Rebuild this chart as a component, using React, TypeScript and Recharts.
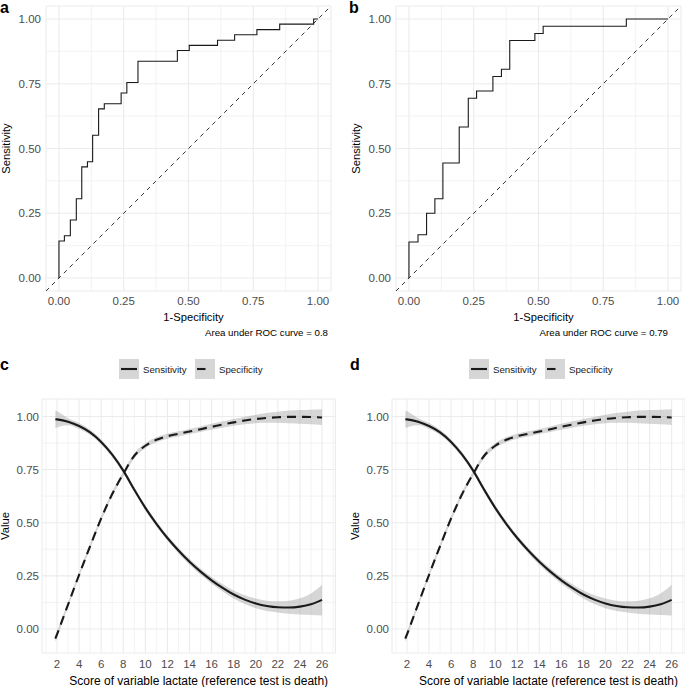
import React from 'react';
import { ComposedChart, Line, Area, XAxis, YAxis, CartesianGrid } from 'recharts';

// ---------- Panel a / b : ROC curves (step vertices: 1-specificity, sensitivity) ----------
const rocAFpr = [0, 0, 0.021, 0.044, 0.067, 0.088, 0.110, 0.130, 0.153, 0.175, 0.240, 0.262, 0.305, 0.457, 0.503, 0.612, 0.678, 0.764, 0.852, 0.983, 1.0];
const rocATpr = [0, 0.143, 0.163, 0.224, 0.306, 0.429, 0.449, 0.551, 0.653, 0.673, 0.714, 0.755, 0.837, 0.878, 0.898, 0.918, 0.939, 0.959, 0.980, 1.0, 1.0];
const rocBFpr = [0, 0, 0.035, 0.068, 0.100, 0.131, 0.194, 0.229, 0.261, 0.324, 0.357, 0.389, 0.486, 0.518, 0.839, 1.0];
const rocBTpr = [0, 0.139, 0.167, 0.250, 0.306, 0.444, 0.583, 0.694, 0.722, 0.778, 0.806, 0.917, 0.944, 0.972, 1.0, 1.0];
const aucA = '0.8';
const aucB = '0.79';
const diagonalX = [-0.05, 1.05];
const rocTicks = [0, 0.25, 0.5, 0.75, 1];
const rocMinor = [0.125, 0.375, 0.625, 0.875];

// ---------- Panel c / d : smoothed sensitivity & specificity by score ----------
const scoreX = [1.85, 2, 3, 4, 5, 6, 7, 8, 9, 10, 11, 12, 13, 14, 15, 16, 17, 18, 19, 20, 21, 22, 23, 24, 25, 26];
const sensitivity = [0.987, 0.986, 0.975, 0.955, 0.925, 0.880, 0.820, 0.745, 0.655, 0.570, 0.495, 0.428, 0.369, 0.316, 0.270, 0.229, 0.193, 0.162, 0.138, 0.120, 0.108, 0.102, 0.101, 0.105, 0.116, 0.137];
const sensLow = [0.945, 0.948, 0.958, 0.941, 0.913, 0.868, 0.808, 0.733, 0.643, 0.558, 0.483, 0.416, 0.356, 0.302, 0.255, 0.213, 0.176, 0.143, 0.117, 0.097, 0.085, 0.078, 0.072, 0.068, 0.066, 0.064];
const sensHigh = [1.027, 1.024, 0.992, 0.969, 0.937, 0.892, 0.832, 0.757, 0.667, 0.582, 0.507, 0.440, 0.382, 0.330, 0.285, 0.245, 0.210, 0.181, 0.159, 0.143, 0.133, 0.130, 0.133, 0.144, 0.167, 0.208];
const specificity = [-0.045, -0.025, 0.115, 0.255, 0.390, 0.520, 0.635, 0.730, 0.815, 0.862, 0.890, 0.907, 0.918, 0.929, 0.940, 0.951, 0.962, 0.972, 0.981, 0.988, 0.993, 0.996, 0.998, 0.998, 0.997, 0.995];
const specLow = [-0.060, -0.040, 0.103, 0.244, 0.378, 0.508, 0.623, 0.718, 0.803, 0.850, 0.878, 0.895, 0.906, 0.917, 0.927, 0.937, 0.947, 0.956, 0.963, 0.968, 0.970, 0.970, 0.968, 0.966, 0.963, 0.960];
const specHigh = [-0.030, -0.010, 0.127, 0.266, 0.402, 0.532, 0.647, 0.742, 0.827, 0.874, 0.902, 0.919, 0.930, 0.941, 0.953, 0.965, 0.977, 0.988, 0.999, 1.008, 1.016, 1.022, 1.028, 1.030, 1.032, 1.034];
const scoreTicks = [2, 4, 6, 8, 10, 12, 14, 16, 18, 20, 22, 24, 26];
const scoreMinor = [1, 3, 5, 7, 9, 11, 13, 15, 17, 19, 21, 23, 25, 27];
const valueTicks = [0, 0.25, 0.5, 0.75, 1];
const valueMinor = [0.125, 0.375, 0.625, 0.875];

const rocA = rocAFpr.map((x, i) => ({ x, y: rocATpr[i] }));
const rocB = rocBFpr.map((x, i) => ({ x, y: rocBTpr[i] }));
const diagonal = diagonalX.map((v) => ({ x: v, y: v }));
const scoreRows = scoreX.map((x, i) => ({
  x,
  sens: sensitivity[i],
  spec: specificity[i],
  sensBand: [sensLow[i], sensHigh[i]],
  specBand: [specLow[i], specHigh[i]],
}));

const FONT = '"Liberation Sans", Arial, Helvetica, sans-serif';
const TICK = { fontSize: 11.5, fill: '#4d4d4d' };
const GRID = '#ebebeb';
const BAND = '#999999';
const INK = '#1a1a1a';

function scaleOf(ax: any, v: number, lo: number, len: number, dom: number[]) {
  const s = ax && ax.scale;
  if (typeof s === 'function') return s(v);
  if (s && typeof s.map === 'function') return s.map(v);
  return lo + ((v - dom[0]) / (dom[1] - dom[0])) * len;
}

const minorX = (vals: number[], dom: number[]) => (p: any) =>
  vals.map((v) => scaleOf(p.xAxis, v, p.offset.left, p.offset.width, dom));
const minorY = (vals: number[], dom: number[]) => (p: any) =>
  vals.map((v) => scaleOf(p.yAxis, v, p.offset.top + p.offset.height, -p.offset.height, dom));

const yTitle = (text: string, shift: number, size: number) => (props: any) => {
  const vb = props.viewBox;
  if (!vb) return null;
  const x = vb.x + shift;
  const y = vb.y + vb.height / 2;
  return (
    <text x={x} y={y} transform={`rotate(-90 ${x} ${y})`} textAnchor="middle" dominantBaseline="central" fontSize={size} fill="#000">
      {text}
    </text>
  );
};

const xTitle = (text: string, down: number, shift: number, size: number) => (props: any) => {
  const vb = props.viewBox;
  if (!vb) return null;
  const x = vb.x + vb.width / 2 + shift;
  const y = vb.y + down;
  return (
    <text x={x} y={y} textAnchor="middle" dominantBaseline="central" fontSize={size} fill="#000">
      {text}
    </text>
  );
};

const fmt2 = (v: number) => v.toFixed(2);

function RocPanel({ data, width, yWidth, right, titleShift }: { data: { x: number; y: number }[]; width: number; yWidth: number; right: number; titleShift: number }) {
  const dom = [-0.05, 1.05];
  return (
    <ComposedChart width={width} height={340} margin={{ top: 6, right, bottom: 0, left: 0 }}>
      <CartesianGrid stroke={GRID} strokeWidth={0.6} verticalCoordinatesGenerator={minorX(rocMinor, dom)} horizontalCoordinatesGenerator={minorY(rocMinor, dom)} />
      <CartesianGrid stroke={GRID} strokeWidth={1.1} />
      <XAxis
        type="number"
        dataKey="x"
        domain={dom}
        allowDataOverflow
        ticks={rocTicks}
        interval={0}
        tickFormatter={fmt2}
        height={49}
        tickLine={false}
        axisLine={false}
        tickSize={0}
        tickMargin={6}
        tick={TICK}
        label={{ content: xTitle('1-Specificity', 26, titleShift, 11.2) }}
      />
      <YAxis
        type="number"
        dataKey="y"
        domain={dom}
        allowDataOverflow
        ticks={rocTicks}
        interval={0}
        tickFormatter={fmt2}
        width={yWidth}
        tickLine={false}
        axisLine={false}
        tickSize={0}
        tickMargin={5}
        tick={TICK}
        label={{ content: yTitle('Sensitivity', yWidth - 40, 11.2) }}
      />
      <Line data={diagonal} dataKey="y" type="linear" stroke="#333333" strokeWidth={1} strokeDasharray="4.2 4.2" dot={false} activeDot={false} isAnimationActive={false} />
      <Line data={data} dataKey="y" type="stepAfter" stroke={INK} strokeWidth={1.1} dot={false} activeDot={false} isAnimationActive={false} />
    </ComposedChart>
  );
}

function ScorePanel({ width, yWidth, right, titleX }: { width: number; yWidth: number; right: number; titleX: number }) {
  const xDom = [0.64, 27.21];
  const yDom = [-0.113, 1.082];
  return (
    <ComposedChart width={width} height={347} data={scoreRows} margin={{ top: 59, right, bottom: 0, left: 0 }}>
      <CartesianGrid stroke={GRID} strokeWidth={0.6} verticalCoordinatesGenerator={minorX(scoreMinor, xDom)} horizontalCoordinatesGenerator={minorY(valueMinor, yDom)} />
      <CartesianGrid stroke={GRID} strokeWidth={1.1} />
      <XAxis
        type="number"
        dataKey="x"
        domain={xDom}
        allowDataOverflow
        ticks={scoreTicks}
        interval={0}
        height={34}
        tickLine={false}
        axisLine={false}
        tickSize={0}
        tickMargin={7}
        tick={TICK}
        label={{ content: xTitle('Score of variable lactate (reference test is death)', 27.5, 10, 12) }}
      />
      <YAxis
        type="number"
        domain={yDom}
        allowDataOverflow
        ticks={valueTicks}
        interval={0}
        tickFormatter={fmt2}
        width={yWidth}
        tickLine={false}
        axisLine={false}
        tickSize={0}
        tickMargin={3}
        tick={TICK}
        label={{ content: yTitle('Value', titleX, 11.2) }}
      />
      <Area dataKey="sensBand" type="monotone" stroke="none" fill={BAND} fillOpacity={0.4} dot={false} activeDot={false} isAnimationActive={false} />
      <Area dataKey="specBand" type="monotone" stroke="none" fill={BAND} fillOpacity={0.4} dot={false} activeDot={false} isAnimationActive={false} />
      <Line dataKey="sens" type="monotone" stroke={INK} strokeWidth={2.1} dot={false} activeDot={false} isAnimationActive={false} />
      <Line dataKey="spec" type="monotone" stroke={INK} strokeWidth={2.1} strokeDasharray="9 6" dot={false} activeDot={false} isAnimationActive={false} />
    </ComposedChart>
  );
}

function LegendRow({ x, y }: { x: number; y: number }) {
  return (
    <g>
      <rect x={x} y={y} width={20} height={20} fill="#d6d6d6" />
      <line x1={x + 2} x2={x + 18} y1={y + 10} y2={y + 10} stroke={INK} strokeWidth={2.1} />
      <text x={x + 24} y={y + 10} dominantBaseline="central" fontSize={9.7} fill={INK}>Sensitivity</text>
      <rect x={x + 76} y={y} width={20} height={20} fill="#d6d6d6" />
      <line x1={x + 78} x2={x + 94} y1={y + 10} y2={y + 10} stroke={INK} strokeWidth={2.1} strokeDasharray="8.5 8.5" />
      <text x={x + 100} y={y + 10} dominantBaseline="central" fontSize={9.7} fill={INK}>Specificity</text>
    </g>
  );
}

export default function App() {
  return (
    <div style={{ position: 'absolute', left: 0, top: 0, width: 685, height: 687, background: '#fff', fontFamily: FONT, overflow: 'hidden' }}>
      <div style={{ position: 'absolute', left: 0, top: 0 }}>
        <RocPanel data={rocA} width={340} yWidth={46} right={9} titleShift={5} />
      </div>
      <div style={{ position: 'absolute', left: 340, top: 0 }}>
        <RocPanel data={rocB} width={345} yWidth={56} right={4} titleShift={5} />
      </div>
      <div style={{ position: 'absolute', left: 0, top: 340 }}>
        <ScorePanel width={340} yWidth={42} right={4.6} titleX={4.5} />
      </div>
      <div style={{ position: 'absolute', left: 340, top: 340 }}>
        <ScorePanel width={345} yWidth={52} right={0} titleX={14.5} />
      </div>
      <svg width={685} height={687} style={{ position: 'absolute', left: 0, top: 0, pointerEvents: 'none' }}>
        <text x={0} y={12.7} fontSize={16} fontWeight="bold" fill="#000">a</text>
        <text x={349} y={12.7} fontSize={16} fontWeight="bold" fill="#000">b</text>
        <text x={0} y={370} fontSize={16} fontWeight="bold" fill="#000">c</text>
        <text x={350} y={370} fontSize={16} fontWeight="bold" fill="#000">d</text>
        <text x={328} y={335.5} textAnchor="end" fontSize={9.7} fill="#000">{`Area under ROC curve = ${aucA}`}</text>
        <text x={668} y={335.5} textAnchor="end" fontSize={9.7} fill="#000">{`Area under ROC curve = ${aucB}`}</text>
        <LegendRow x={119} y={359} />
        <LegendRow x={469} y={359} />
      </svg>
    </div>
  );
}
